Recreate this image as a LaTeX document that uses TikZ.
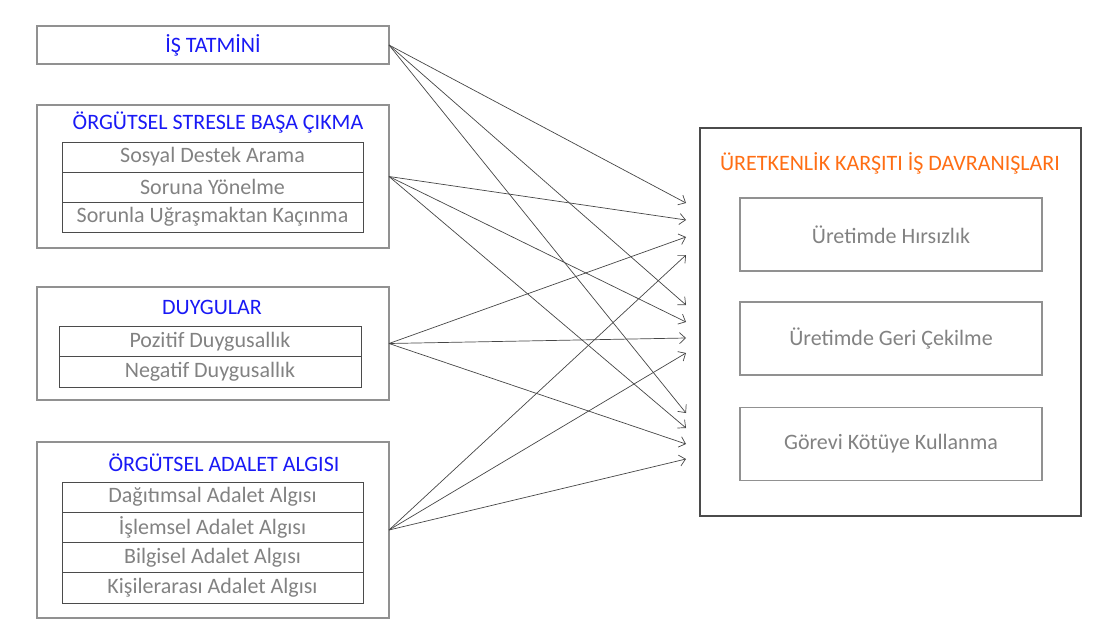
\documentclass[tikz,border=0pt]{standalone}
\usepackage{fontspec}
\setmainfont{Carlito}
\usepackage{tikz}
\usetikzlibrary{positioning, arrows.meta}

\definecolor{titleblue}{RGB}{25,25,245}
\definecolor{titleorange}{RGB}{255,110,20}
\definecolor{textgray}{RGB}{130,130,130}
\definecolor{framegray}{RGB}{145,145,145}
\definecolor{rulegray}{RGB}{75,75,75}
\definecolor{linkgray}{RGB}{70,70,70}

\begin{document}
\begin{tikzpicture}[x=1pt, y=-1pt, >={Straight Barb[length=6pt,width=11pt]},
    every node/.style={font=\fontsize{22}{24}\selectfont, inner sep=0pt, outer sep=0pt},
    groupbox/.style={draw=framegray, line width=1.1pt, rectangle, minimum width=352pt},
    rowbox/.style={draw=rulegray, line width=0.9pt, rectangle, minimum height=30pt, text=textgray},
    outcomebox/.style={draw=framegray, line width=1.1pt, rectangle, minimum width=302pt, minimum height=73pt, text=textgray},
    link/.style={->, draw=linkgray, line width=0.7pt}]
    \useasboundingbox (0,0) rectangle (1109,621);

    % Left side: predictor groups
    \node [groupbox, minimum height=38pt, text=titleblue] (tatmin) at (213,45) {İŞ TATMİNİ};

    \node [groupbox, minimum height=143pt] (stres) at (213,176.5) {};
    \node [text=titleblue] (stres-title) at (218,123) {ÖRGÜTSEL STRESLE BAŞA ÇIKMA};
    \node [rowbox, minimum width=301pt] (stres-1) at (212.5,157) {Sosyal Destek Arama};
    \node [rowbox, minimum width=301pt, below=0pt of stres-1] (stres-2) {Soruna Yönelme};
    \node [rowbox, minimum width=301pt, below=0pt of stres-2] (stres-3) {Sorunla Uğraşmaktan Kaçınma};

    \node [groupbox, minimum height=113pt] (duygu) at (213,343.5) {};
    \node [text=titleblue] (duygu-title) at (212,307) {DUYGULAR};
    \node [rowbox, minimum width=302pt, minimum height=30.5pt] (duygu-1) at (210,341.25) {Pozitif Duygusallık};
    \node [rowbox, minimum width=302pt, minimum height=30.5pt, below=0pt of duygu-1] (duygu-2) {Negatif Duygusallık};

    \node [groupbox, minimum height=176pt] (adalet) at (213,530) {};
    \node [text=titleblue] (adalet-title) at (224,463) {ÖRGÜTSEL ADALET ALGISI};
    \node [rowbox, minimum width=301pt, minimum height=30.25pt] (adalet-1) at (212.5,497.1) {Dağıtımsal Adalet Algısı};
    \node [rowbox, minimum width=301pt, minimum height=30.25pt, below=0pt of adalet-1] (adalet-2) {İşlemsel Adalet Algısı};
    \node [rowbox, minimum width=301pt, minimum height=30.25pt, below=0pt of adalet-2] (adalet-3) {Bilgisel Adalet Algısı};
    \node [rowbox, minimum width=301pt, minimum height=30.25pt, below=0pt of adalet-3] (adalet-4) {Kişilerarası Adalet Algısı};

    % Right side: outcome
    \node [draw=rulegray, line width=2pt, rectangle, minimum width=381pt, minimum height=388pt] (ukid) at (890.5,322) {};
    \node [text=titleorange] (ukid-title) at (890,163) {ÜRETKENLİK KARŞITI İŞ DAVRANIŞLARI};
    \node [outcomebox] (hirs) at (891,234.5) {Üretimde Hırsızlık};
    \node [outcomebox] (geri) at (891,338.5) {Üretimde Geri Çekilme};
    \node [outcomebox] (kotu) at (891,444) {Görevi Kötüye Kullanma};

    % Arrow ends in front of the outcome box
    \coordinate (hirs-1) at (686,203);
    \coordinate (hirs-2) at (686,220);
    \coordinate (hirs-3) at (686,237);
    \coordinate (hirs-4) at (686,255);
    \coordinate (geri-1) at (686,305);
    \coordinate (geri-2) at (686,322);
    \coordinate (geri-3) at (686,338);
    \coordinate (geri-4) at (686,353);
    \coordinate (kotu-1) at (686,413);
    \coordinate (kotu-2) at (686,428);
    \coordinate (kotu-3) at (686,444);
    \coordinate (kotu-4) at (686,459);

    % Links
    \draw[link] (tatmin.east) -- (hirs-1);
    \draw[link] (tatmin.east) -- (geri-1);
    \draw[link] (tatmin.east) -- (kotu-1);
    \draw[link] (stres.east) -- (hirs-2);
    \draw[link] (stres.east) -- (geri-2);
    \draw[link] (stres.east) -- (kotu-2);
    \draw[link] (duygu.east) -- (hirs-3);
    \draw[link] (duygu.east) -- (geri-3);
    \draw[link] (duygu.east) -- (kotu-3);
    \draw[link] (adalet.east) -- (hirs-4);
    \draw[link] (adalet.east) -- (geri-4);
    \draw[link] (adalet.east) -- (kotu-4);
\end{tikzpicture}
\end{document}
